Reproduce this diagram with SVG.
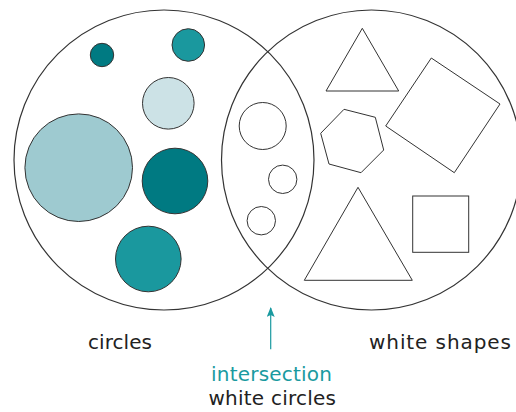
<svg xmlns="http://www.w3.org/2000/svg" width="516" height="412" viewBox="0 0 516 412">
<defs>
<style>
.set{fill:none;stroke:#333;stroke-width:1.2}
.c{stroke:#333;stroke-width:1}
.w{fill:#fff;stroke:#333;stroke-width:1}
.d{fill:#007a82}
.t{fill:#1a989e}
.p{fill:#cce2e6}
.l{fill:#9ecad0}
.lbl{font-family:"DejaVu Sans",Verdana,sans-serif;font-size:20px;fill:#222}
.teal{fill:#1a9aa0}
</style>
<marker id="ah" viewBox="0 0 10 8" refX="9" refY="4" markerWidth="10" markerHeight="8" markerUnits="userSpaceOnUse" orient="auto">
<path d="M0,0 L10,4 L0,8 L2,4 Z" fill="#1a9aa0"/>
</marker>
</defs>
<rect width="516" height="412" fill="#fff"/>
<g id="set-circles"><circle class="set" cx="164" cy="160" r="150"/></g>
<g id="set-white"><circle class="set" cx="371.5" cy="160" r="150"/></g>
<g id="circle-1"><circle class="c d" cx="102" cy="55" r="11.7"/></g>
<g id="circle-2"><circle class="c t" cx="188.3" cy="45" r="16.3"/></g>
<g id="circle-3"><circle class="c p" cx="168.3" cy="103.3" r="25.8"/></g>
<g id="circle-4"><circle class="c l" cx="78.7" cy="167.7" r="53.8"/></g>
<g id="circle-5"><circle class="c d" cx="175" cy="181" r="32.8"/></g>
<g id="circle-6"><circle class="c t" cx="148.3" cy="259" r="32.8"/></g>
<g id="white-circle-1"><circle class="w" cx="262.7" cy="126" r="23.5"/></g>
<g id="white-circle-2"><circle class="w" cx="282.7" cy="179.3" r="14.2"/></g>
<g id="white-circle-3"><circle class="w" cx="261.3" cy="220.7" r="14.2"/></g>
<g id="triangle-1"><polygon class="w" points="362.3,28.3 398.7,91 326,91"/></g>
<g id="square-rotated"><polygon class="w" points="431.3,58 500,104 454.3,172.7 385.7,126"/></g>
<g id="hexagon"><polygon class="w" points="344,109.3 375.3,117.3 383.7,150 361,172.7 329,164 320.7,133.3"/></g>
<g id="triangle-2"><polygon class="w" points="358,187.3 412.3,280.3 304.3,280.3"/></g>
<g id="square"><rect class="w" x="412.7" y="196" width="56" height="56.3"/></g>
<g id="connectors">
<line x1="270.7" y1="349.3" x2="270.7" y2="308" stroke="#1a9aa0" stroke-width="1.2" marker-end="url(#ah)"/>
</g>
<g id="labels">
<text class="lbl" x="88" y="349" textLength="64" lengthAdjust="spacing">circles</text>
<text class="lbl" x="369" y="349" textLength="142" lengthAdjust="spacing">white shapes</text>
<text class="lbl teal" x="211" y="381" textLength="121" lengthAdjust="spacing">intersection</text>
<text class="lbl" x="208.5" y="404.5" textLength="127.5" lengthAdjust="spacing">white circles</text>
</g>
</svg>
